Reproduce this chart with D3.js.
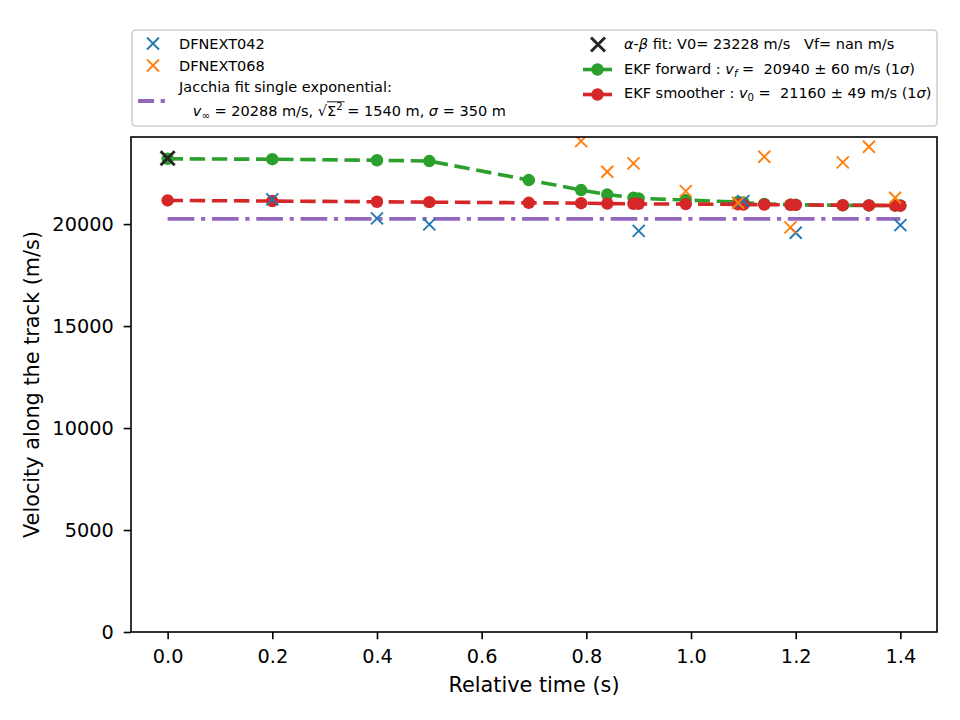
<!DOCTYPE html>
<html>
<head>
<meta charset="utf-8">
<script src="https://cdn.jsdelivr.net/npm/d3@7"></script>
<style>
  body { margin: 0; background: #fff; }
  svg { font-family: 'DejaVu Sans', sans-serif; }
  text { white-space: pre; }
</style>
</head>
<body>
<svg id="chart" width="960" height="720"></svg>
<script>
// data
const xTicks = [0, 0.2, 0.4, 0.6, 0.8, 1.0, 1.2, 1.4];
const yTicks = [0, 5000, 10000, 15000, 20000];

const ekfT = [0, 0.2, 0.4, 0.5, 0.69, 0.79, 0.84, 0.89, 0.9, 0.99, 1.09, 1.1, 1.14, 1.19, 1.2, 1.29, 1.34, 1.39, 1.4];
const ekfForward = [23200, 23180, 23130, 23090, 22160, 21670, 21450, 21290, 21260, 21180, 21080, 21060, 20990, 20950, 20945, 20920, 20915, 20910, 20910];
const ekfSmoother = [21160, 21130, 21095, 21075, 21045, 21025, 21005, 20995, 20990, 20980, 20965, 20960, 20955, 20945, 20940, 20925, 20920, 20905, 20900];

const jacchiaT = [0, 0.2, 0.4, 0.6, 0.8, 1.0, 1.2, 1.4];
const jacchiaV = [20260, 20260, 20260, 20260, 20260, 20260, 20260, 20260];

const dfn042T = [0.2, 0.4, 0.5, 0.9, 1.1, 1.2, 1.4];
const dfn042V = [21210, 20280, 19985, 19670, 21127, 19575, 19950];

const dfn068T = [0.79, 0.84, 0.89, 0.99, 1.09, 1.14, 1.19, 1.29, 1.34, 1.39];
const dfn068V = [24070, 22565, 22975, 21620, 21045, 23300, 19840, 23025, 23790, 21290];

const abT = [0];
const abV = [23228];

const colors = { blue: '#1f77b4', orange: '#ff7f0e', green: '#2ca02c', red: '#d62728', purple: '#9467bd', black: '#262626' };

const margin = { top: 137, right: 23, bottom: 88, left: 131 };
const width = 960 - margin.left - margin.right;
const height = 720 - margin.top - margin.bottom;

const xScale = d3.scaleLinear().domain([-0.07, 1.47]).range([0, width]);
const yScale = d3.scaleLinear().domain([0, 24270]).range([height, 0]);

const svgEl = d3.select('#chart');
const svg = svgEl.append('g').attr('transform', `translate(${margin.left},${margin.top})`);

svg.append('clipPath').attr('id', 'plotclip')
    .append('rect').attr('width', width).attr('height', height);

const plot = svg.append('g').attr('clip-path', 'url(#plotclip)');

const zip = (ts, vs) => ts.map((t, i) => ({ t, v: vs[i] }));
const line = d3.line().x((d) => xScale(d.t)).y((d) => yScale(d.v));

const xMark = (sel, data, color, size, sw) => {
    const h = size / 2;
    sel.selectAll(null).data(data).enter().append('path')
        .attr('d', (d) => {
            const x = xScale(d.t), y = yScale(d.v);
            return `M${x - h},${y - h}L${x + h},${y + h}M${x - h},${y + h}L${x + h},${y - h}`;
        })
        .attr('stroke', color).attr('stroke-width', sw).attr('fill', 'none');
};

// Jacchia fit
plot.append('path')
    .attr('d', line(zip(jacchiaT, jacchiaV)))
    .attr('stroke', colors.purple).attr('stroke-width', 3.8).attr('fill', 'none')
    .attr('stroke-dasharray', '26.7,6.7,4.2,6.7');

// EKF forward and smoother
[[ekfForward, colors.green], [ekfSmoother, colors.red]].forEach(([vals, c]) => {
    const pts = zip(ekfT, vals);
    plot.append('path')
        .attr('d', line(pts))
        .attr('stroke', c).attr('stroke-width', 3.6).attr('fill', 'none')
        .attr('stroke-dasharray', '15.4,6.7');
    plot.selectAll(null).data(pts).enter().append('circle')
        .attr('cx', (d) => xScale(d.t)).attr('cy', (d) => yScale(d.v))
        .attr('r', 6.2).attr('fill', c);
});

xMark(plot, zip(dfn042T, dfn042V), colors.blue, 12, 1.9);
xMark(plot, zip(dfn068T, dfn068V), colors.orange, 12, 1.9);
xMark(plot, zip(abT, abV), colors.black, 14, 3);

// axes
const xAxis = d3.axisBottom(xScale).tickValues(xTicks).tickSize(7.3).tickPadding(10).tickFormat(d3.format('.1f'));
const xAxisGroup = svg.append('g').attr('transform', `translate(0,${height})`).call(xAxis);
const yAxis = d3.axisLeft(yScale).tickValues(yTicks).tickSize(7.3).tickPadding(10).tickFormat((d) => d);
const yAxisGroup = svg.append('g').call(yAxis);
[xAxisGroup, yAxisGroup].forEach((g) => {
    g.select('.domain').remove();
    g.selectAll('line').attr('stroke', '#000').attr('stroke-width', 1.6);
    g.selectAll('text').attr('font-size', 19.3).attr('fill', '#000')
        .attr('font-family', "'DejaVu Sans', sans-serif");
});

svg.append('rect').attr('width', width).attr('height', height)
    .attr('fill', 'none').attr('stroke', '#000').attr('stroke-width', 1.6);

svg.append('text')
    .attr('x', width / 2).attr('y', height + 60)
    .attr('text-anchor', 'middle').attr('font-size', 20.8)
    .text('Relative time (s)');

svg.append('text')
    .attr('transform', `translate(${-92},${height / 2}) rotate(-90)`)
    .attr('text-anchor', 'middle').attr('font-size', 20.8)
    .text('Velocity along the track (m/s)');

// legend
const legend = svgEl.append('g');
legend.append('rect')
    .attr('x', 132).attr('y', 30).attr('width', 805).attr('height', 96).attr('rx', 3.5)
    .attr('fill', '#fff').attr('fill-opacity', 0.8).attr('stroke', '#d0d0d0').attr('stroke-width', 1.6);

const fs = 14.5;
const richText = (x, y, runs) => {
    let cx = x;
    runs.forEach((r) => {
        const size = (r.sub || r.sup) ? fs * 0.7 : fs;
        const dy = r.sub ? fs * 0.22 : r.sup ? -fs * 0.42 : 0;
        const t = legend.append('text')
            .attr('x', cx).attr('y', y + dy)
            .attr('font-size', size)
            .attr('font-style', r.it ? 'italic' : 'normal')
            .text(r.t);
        const w = t.node().getComputedTextLength();
        if (r.over) {
            legend.append('line')
                .attr('x1', cx).attr('x2', cx + w + (r.overExtra || 0))
                .attr('y1', y - fs * 0.98).attr('y2', y - fs * 0.98)
                .attr('stroke', '#000').attr('stroke-width', 0.9);
        }
        cx += w;
    });
};

const legendX = (cx, cy, color, size, sw) => {
    const h = size / 2;
    legend.append('path')
        .attr('d', `M${cx - h},${cy - h}L${cx + h},${cy + h}M${cx - h},${cy + h}L${cx + h},${cy - h}`)
        .attr('stroke', color).attr('stroke-width', sw);
};
const legendLine = (cy, color) => {
    legend.append('line').attr('x1', 583).attr('x2', 612).attr('y1', cy).attr('y2', cy)
        .attr('stroke', color).attr('stroke-width', 3.6);
    legend.append('circle').attr('cx', 597.5).attr('cy', cy).attr('r', 6.2).attr('fill', color);
};

legendX(153, 43.5, colors.blue, 12, 1.9);
richText(179, 48.5, [{ t: 'DFNEXT042' }]);
legendX(153, 65.5, colors.orange, 12, 1.9);
richText(179, 70.5, [{ t: 'DFNEXT068' }]);
legend.append('line').attr('x1', 138).attr('x2', 167).attr('y1', 101).attr('y2', 101)
    .attr('stroke', colors.purple).attr('stroke-width', 3.8).attr('stroke-dasharray', '16,6.7,4.2,6.7');
richText(179, 92, [{ t: 'Jacchia fit single exponential:' }]);
richText(179, 116, [
    { t: '   ' }, { t: 'v', it: true }, { t: '∞', sub: true },
    { t: ' = 20288 m/s, ' }, { t: '√' }, { t: 'Σ', over: true }, { t: '2', sup: true, over: true, overExtra: 2 },
    { t: ' = 1540 m, ' }, { t: 'σ', it: true }, { t: ' = 350 m' },
]);

legendX(598, 44.5, colors.black, 14, 3);
richText(624, 48.5, [{ t: 'α', it: true }, { t: '-' }, { t: 'β', it: true }, { t: ' fit: V0= 23228 m/s   Vf= nan m/s' }]);
legendLine(69.5, colors.green);
richText(624, 73.5, [
    { t: 'EKF forward : ' }, { t: 'v', it: true }, { t: 'f', it: true, sub: true },
    { t: ' =  20940 ± 60 m/s (1' }, { t: 'σ', it: true }, { t: ')' },
]);
legendLine(94.5, colors.red);
richText(624, 98, [
    { t: 'EKF smoother : ' }, { t: 'v', it: true }, { t: '0', sub: true },
    { t: ' =  21160 ± 49 m/s (1' }, { t: 'σ', it: true }, { t: ')' },
]);
</script>
</body>
</html>
